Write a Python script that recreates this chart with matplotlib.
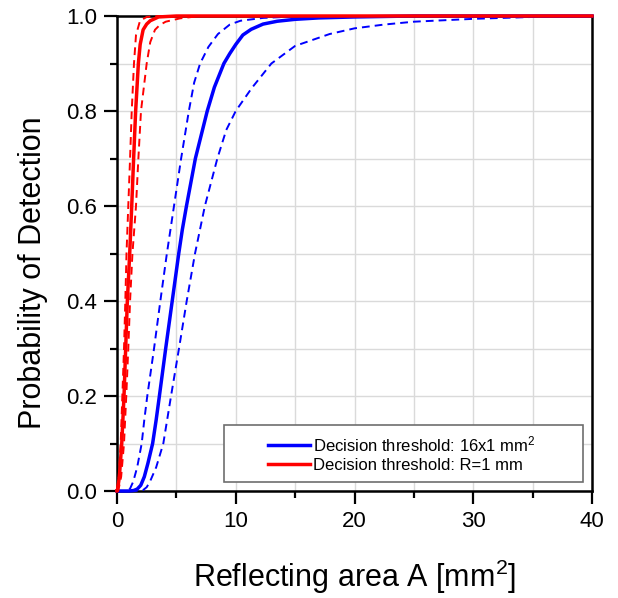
import matplotlib
matplotlib.use("Agg")
import matplotlib.pyplot as plt
from matplotlib.patches import Rectangle

plt.rcParams['font.family'] = ['Liberation Sans', 'DejaVu Sans']
plt.rcParams['mathtext.fontset'] = 'custom'
plt.rcParams['mathtext.rm'] = 'Liberation Sans'
plt.rcParams['mathtext.it'] = 'Liberation Sans:italic'

# ---- data ----
blue_x = [0, 1.0, 1.4, 1.7, 2.0, 2.3, 2.6, 3.0, 3.3, 3.57, 4.1, 4.65, 5.2, 5.5, 5.85, 6.6, 7.1, 7.6, 8.2, 9.0,
          9.5, 10.0, 10.6, 11.3, 12.3, 13.5, 15, 17, 20, 25, 40]
blue_y = [0, 0, 0.001, 0.004, 0.012, 0.03, 0.058, 0.1, 0.15, 0.2, 0.3, 0.4, 0.5, 0.55, 0.6, 0.7, 0.75, 0.8, 0.85, 0.9,
          0.921, 0.94, 0.96, 0.972, 0.983, 0.989, 0.993, 0.996, 0.998, 1.0, 1.0]

blue_lo_x = [0, 0.9, 1.1, 1.37, 1.7, 2.08, 2.3, 2.55, 3.12, 3.65, 4.2, 4.8, 5.4, 6.05, 6.5, 7.0, 7.7, 8.5,
             9.5, 10.4, 12.3, 15, 20, 40]
blue_lo_y = [0, 0, 0.005, 0.02, 0.05, 0.1, 0.15, 0.2, 0.3, 0.4, 0.5, 0.6, 0.7, 0.8, 0.86, 0.9, 0.935, 0.962,
             0.982, 0.99, 0.996, 0.999, 1.0, 1.0]

blue_hi_x = [0, 1.5, 2.2, 2.5, 2.78, 3.3, 3.9, 4.55, 5.22, 5.87, 6.57, 7.4, 8.45, 9.2, 10.0, 11.34, 13.0, 15,
             17.9, 20, 22.5, 25, 30, 35, 40]
blue_hi_y = [0, 0, 0.002, 0.008, 0.02, 0.05, 0.1, 0.2, 0.3, 0.4, 0.5, 0.6, 0.7, 0.76, 0.8, 0.848, 0.9, 0.937,
             0.962, 0.974, 0.982, 0.988, 0.994, 0.998, 0.999]

red_x = [0, 0.03, 0.2, 0.4, 0.59, 0.73, 0.87, 1.07, 1.24, 1.4, 1.57, 1.8, 1.95, 2.2, 2.5, 2.8, 3.5, 5, 40]
red_y = [0, 0, 0.03, 0.1, 0.2, 0.3, 0.4, 0.5, 0.6, 0.7, 0.8, 0.9, 0.94, 0.971, 0.983, 0.99, 0.998, 1.0, 1.0]

red_lo_x = [0, 0.15, 0.31, 0.45, 0.59, 0.7, 0.8, 0.95, 1.1, 1.24, 1.43, 1.6, 1.94, 2.5, 3.5, 40]
red_lo_y = [0, 0.03, 0.1, 0.2, 0.3, 0.4, 0.5, 0.6, 0.7, 0.8, 0.9, 0.96, 0.99, 0.998, 1.0, 1.0]

red_hi_x = [0, 0.1, 0.35, 0.59, 0.78, 0.95, 1.1, 1.3, 1.6, 1.8, 2.02, 2.5, 2.8, 3.2, 3.6, 4.1, 5.3, 7, 40]
red_hi_y = [0, 0, 0.03, 0.1, 0.2, 0.3, 0.4, 0.5, 0.6, 0.7, 0.8, 0.9, 0.945, 0.971, 0.981, 0.988, 0.995, 1.0, 1.0]

labels = ['Decision threshold: 16x1 mm$^2$', 'Decision threshold: R=1 mm']
xticks = [0, 10, 20, 30, 40]
yticks = [0.0, 0.2, 0.4, 0.6, 0.8, 1.0]

# ---- figure ----
fig = plt.figure(figsize=(6.18, 5.98), dpi=100)
ax = fig.add_axes([117/618, 1-491/598, 475/618, 475/598])

blue = '#0000ff'
red = '#ff0000'
dash = (4, 2.6)

l1, = ax.plot(blue_x, blue_y, color=blue, lw=2.5, clip_on=False, zorder=3, label=labels[0],
              solid_joinstyle='round')
ax.plot(blue_lo_x, blue_lo_y, color=blue, lw=1.4, ls=(0, dash), clip_on=False, zorder=3)
ax.plot(blue_hi_x, blue_hi_y, color=blue, lw=1.4, ls=(0, dash), clip_on=False, zorder=3)
l2, = ax.plot(red_x, red_y, color=red, lw=2.5, clip_on=False, zorder=3.2, label=labels[1],
              solid_joinstyle='round')
ax.plot(red_lo_x, red_lo_y, color=red, lw=1.4, ls=(0, dash), clip_on=False, zorder=3.1)
ax.plot(red_hi_x, red_hi_y, color=red, lw=1.4, ls=(0, dash), clip_on=False, zorder=3.1)

ax.set_xlim(0, 40)
ax.set_ylim(0, 1.0)
ax.set_xticks(xticks)
ax.set_xticks([5, 15, 25, 35], minor=True)
ax.set_yticks(yticks)
ax.set_yticks([0.1, 0.3, 0.5, 0.7, 0.9], minor=True)
ax.set_yticklabels([f'{v:.1f}' for v in yticks])

ax.grid(True, which='both', color='#dadada', lw=1.0, zorder=0)
ax.set_axisbelow(True)

ax.tick_params(which='major', direction='out', length=9.5, width=1.6, labelsize=16, pad=5, colors='black')
ax.tick_params(which='minor', direction='out', length=5, width=1.6)
for s in ax.spines.values():
    s.set_linewidth(1.8)
    s.set_color('black')

ax.set_xlabel('Reflecting area A [mm$^2$]', fontsize=22)
ax.set_ylabel('Probability of Detection', fontsize=22)
ax.xaxis.set_label_coords(0.5, -0.14)
ax.yaxis.set_label_coords(-0.145, 0.459)

# legend frame and legend
ax.add_patch(Rectangle((0.225, 0.019), 0.756, 0.120, transform=ax.transAxes,
                       facecolor='white', edgecolor='#6e6e6e', lw=1.2, zorder=4))
leg = ax.legend(handles=[l1, l2], loc='center', bbox_to_anchor=(0.6, 0.079),
                frameon=False, fontsize=12, handlelength=2.5, handletextpad=0.2,
                labelspacing=0.2, borderpad=0.2)
leg.set_zorder(5)

fig.savefig('out.png', dpi=100)
